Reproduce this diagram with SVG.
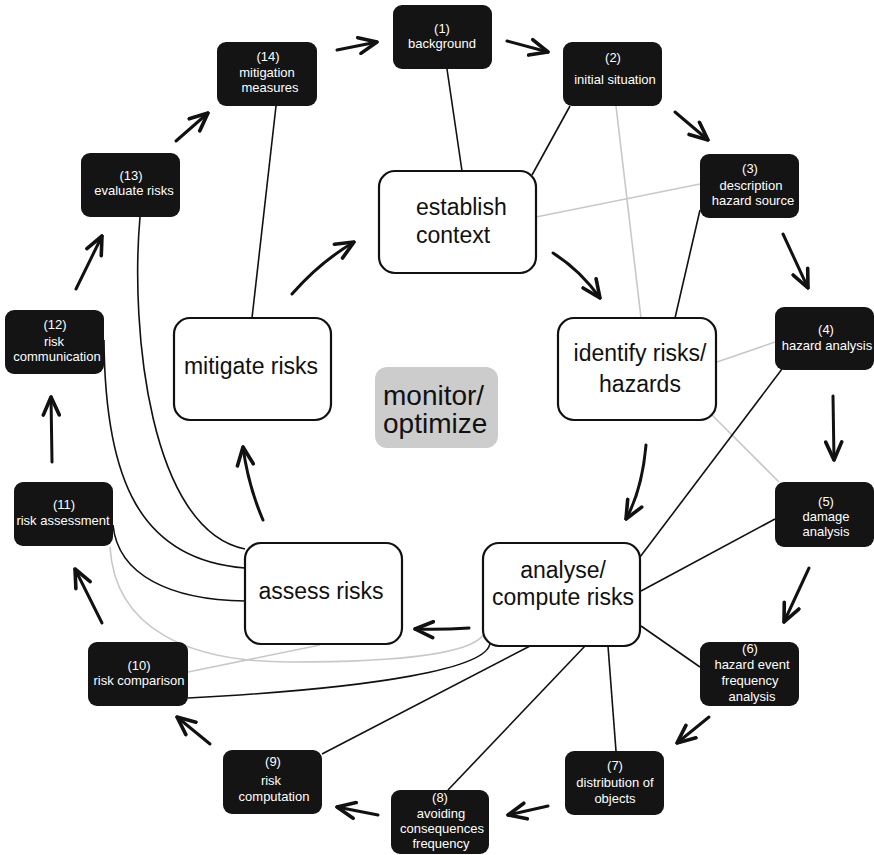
<svg xmlns="http://www.w3.org/2000/svg" width="874" height="855" viewBox="0 0 874 855">
<defs>
<marker id="ah" viewBox="0 0 22 20" refX="20" refY="10" markerWidth="22" markerHeight="20" markerUnits="userSpaceOnUse" orient="auto">
<path d="M2,2 L20,10 L2,18" fill="none" stroke="#111" stroke-width="3.6" stroke-linecap="round" stroke-linejoin="round"/>
</marker>
</defs>
<style>
.bk rect{fill:#141414;}
.bk text{fill:#fff;font-family:"Liberation Sans",Arial,sans-serif;font-size:13px;text-anchor:middle;}
.wh rect{fill:#fff;stroke:#111;stroke-width:2.2;}
.wh text{fill:#111;font-family:"Liberation Sans",Arial,sans-serif;font-size:23px;text-anchor:middle;}
.mon rect{fill:#cccccc;}
.mon text{fill:#111;font-family:"Liberation Sans",Arial,sans-serif;font-size:28px;}
.ln{fill:none;stroke:#111;stroke-width:1.6;}
.gl{fill:none;stroke:#c8c8c8;stroke-width:1.6;}
.ar{fill:none;stroke:#111;stroke-width:3;stroke-linecap:round;marker-end:url(#ah);}
</style>
<rect width="874" height="855" fill="#fff"/>
<g id="connectors">
<line class="gl" x1="616" y1="106" x2="641" y2="318"/>
<line class="gl" x1="536" y1="217" x2="700" y2="184"/>
<line class="gl" x1="717" y1="362" x2="775" y2="342"/>
<line class="gl" x1="712" y1="415" x2="779" y2="482"/>
<line class="gl" x1="320" y1="645" x2="188" y2="672"/>
<path class="gl" d="M110,547 C115,630 190,662 290,662 C380,662 470,657 484,634"/>
<line class="ln" x1="447" y1="69" x2="462" y2="171"/>
<line class="ln" x1="570" y1="106" x2="532" y2="175"/>
<line class="ln" x1="276" y1="106" x2="252" y2="318"/>
<line class="ln" x1="700" y1="210" x2="675" y2="318"/>
<line class="ln" x1="782" y1="369" x2="640" y2="557"/>
<line class="ln" x1="775" y1="519" x2="641" y2="591"/>
<line class="ln" x1="641" y1="626" x2="700" y2="667"/>
<line class="ln" x1="608" y1="646" x2="616" y2="751"/>
<line class="ln" x1="585" y1="646" x2="448" y2="790"/>
<line class="ln" x1="530" y1="646" x2="322" y2="754"/>
<path class="ln" d="M490,643 C488,668 380,688 188,698"/>
<path class="ln" d="M113,525 C118,575 170,600 245,601"/>
<path class="ln" d="M104,340 C105,480 140,560 245,568"/>
<path class="ln" d="M140,217 C130,330 150,530 245,549"/>
<line class="ar" x1="337" y1="50" x2="377" y2="42"/>
<line class="ar" x1="507" y1="41" x2="548" y2="52"/>
<line class="ar" x1="675" y1="112" x2="708" y2="140"/>
<line class="ar" x1="783" y1="234" x2="808" y2="288"/>
<line class="ar" x1="833" y1="396" x2="834" y2="460"/>
<line class="ar" x1="809" y1="568" x2="784" y2="622"/>
<line class="ar" x1="709" y1="717" x2="677" y2="743"/>
<line class="ar" x1="548" y1="806" x2="508" y2="815"/>
<line class="ar" x1="378" y1="815" x2="337" y2="807"/>
<line class="ar" x1="210" y1="744" x2="177" y2="717"/>
<line class="ar" x1="102" y1="623" x2="75" y2="569"/>
<line class="ar" x1="52" y1="462" x2="51" y2="397"/>
<line class="ar" x1="76" y1="289" x2="102" y2="236"/>
<line class="ar" x1="176" y1="141" x2="208" y2="113"/>
<path class="ar" d="M553,253 Q580,270 600,298"/>
<path class="ar" d="M646,445 Q642,490 626,519"/>
<path class="ar" d="M469,628 Q440,630 415,629"/>
<path class="ar" d="M263,520 Q248,485 243,447"/>
<path class="ar" d="M292,294 Q320,262 354,242"/>
</g>
<g id="n1" class="bk"><rect x="393" y="5" width="99" height="64" rx="9"/><text x="442" y="33">(1)</text><text x="442" y="48">background</text></g>
<g id="n2" class="bk"><rect x="563" y="42" width="99" height="64" rx="9"/><text x="613" y="62">(2)</text><text x="615" y="84">initial  situation</text></g>
<g id="n3" class="bk"><rect x="700" y="154" width="99" height="64" rx="9"/><text x="750" y="173">(3)</text><text x="751" y="190">description</text><text x="753" y="205">hazard source</text></g>
<g id="n4" class="bk"><rect x="775" y="307" width="99" height="63" rx="9"/><text x="826" y="334">(4)</text><text x="827" y="350">hazard analysis</text></g>
<g id="n5" class="bk"><rect x="775" y="482" width="99" height="65" rx="9"/><text x="826" y="506">(5)</text><text x="826" y="521">damage</text><text x="826" y="536">analysis</text></g>
<g id="n6" class="bk"><rect x="700" y="642" width="99" height="64" rx="9"/><text x="750" y="653">(6)</text><text x="752" y="669">hazard event</text><text x="750" y="685">frequency</text><text x="752" y="701">analysis</text></g>
<g id="n7" class="bk"><rect x="565" y="751" width="99" height="64" rx="9"/><text x="615" y="770">(7)</text><text x="615" y="787">distribution of</text><text x="615" y="803">objects</text></g>
<g id="n8" class="bk"><rect x="391" y="790" width="98" height="64" rx="9"/><text x="440" y="802">(8)</text><text x="441" y="818">avoiding</text><text x="442" y="833">consequences</text><text x="441" y="848">frequency</text></g>
<g id="n9" class="bk"><rect x="223" y="750" width="99" height="64" rx="9"/><text x="273" y="766">(9)</text><text x="271" y="785">risk</text><text x="274" y="801">computation</text></g>
<g id="n10" class="bk"><rect x="88" y="642" width="100" height="64" rx="9"/><text x="139" y="670">(10)</text><text x="139" y="685">risk comparison</text></g>
<g id="n11" class="bk"><rect x="14" y="482" width="99" height="64" rx="9"/><text x="64" y="509">(11)</text><text x="63" y="525">risk assessment</text></g>
<g id="n12" class="bk"><rect x="5" y="310" width="99" height="64" rx="9"/><text x="55" y="329">(12)</text><text x="54" y="346">risk</text><text x="57" y="361">communication</text></g>
<g id="n13" class="bk"><rect x="81" y="153" width="99" height="64" rx="9"/><text x="131" y="180">(13)</text><text x="134" y="195">evaluate risks</text></g>
<g id="n14" class="bk"><rect x="217" y="42" width="100" height="64" rx="9"/><text x="268" y="61">(14)</text><text x="267" y="77">mitigation</text><text x="270" y="92">measures</text></g>
<g id="establish" class="wh"><rect x="379" y="171" width="157" height="102" rx="16"/><text x="416" y="215" style="text-anchor:start">establish</text><text x="416" y="243" style="text-anchor:start">context</text></g>
<g id="identify" class="wh"><rect x="558" y="318" width="158" height="102" rx="16"/><text x="640" y="361">identify risks/</text><text x="640" y="392">hazards</text></g>
<g id="analyse" class="wh"><rect x="483" y="543" width="157" height="103" rx="16"/><text x="563" y="578">analyse/</text><text x="563" y="605">compute risks</text></g>
<g id="assess" class="wh"><rect x="245" y="543" width="157" height="101" rx="16"/><text x="321" y="599">assess risks</text></g>
<g id="mitigate" class="wh"><rect x="174" y="318" width="157" height="102" rx="16"/><text x="251" y="374">mitigate risks</text></g>
<g id="monitor" class="mon"><rect x="375" y="367" width="123" height="81" rx="12"/><text x="383" y="405">monitor/</text><text x="383" y="433">optimize</text></g>
</svg>
